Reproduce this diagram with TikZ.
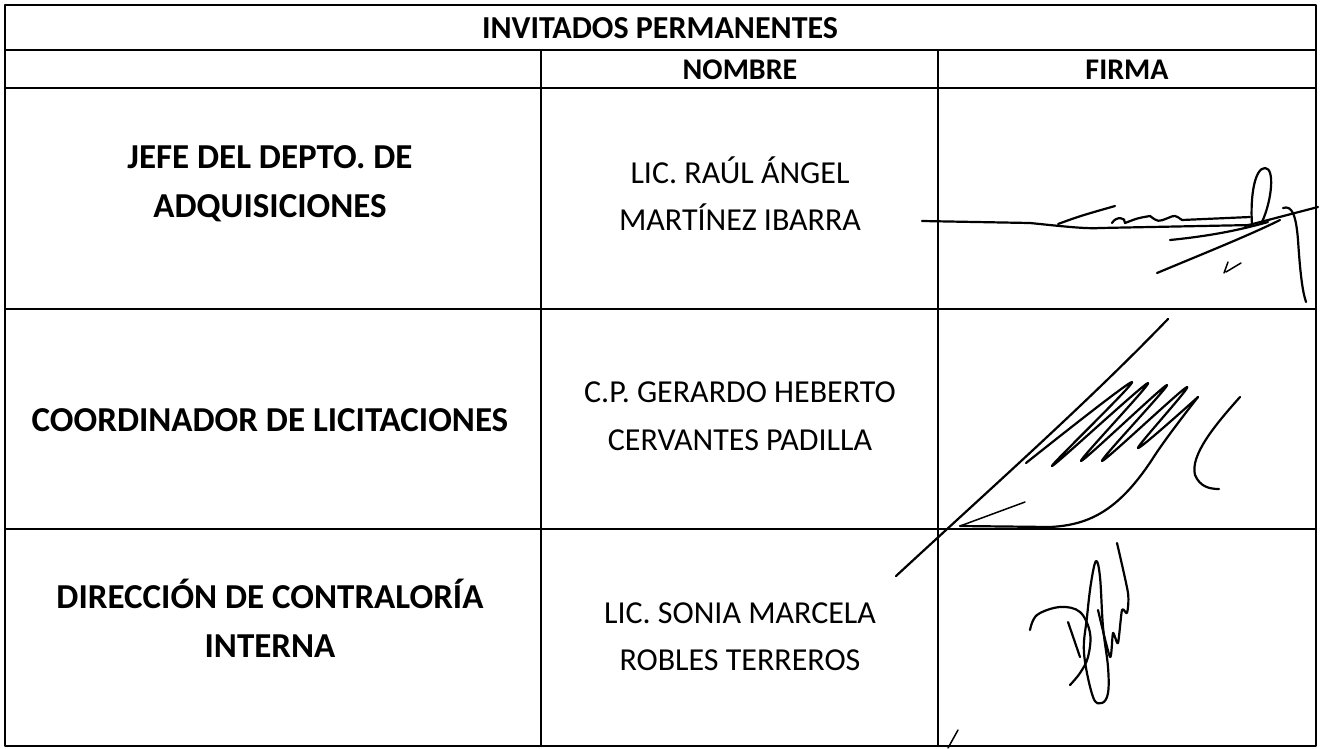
\documentclass[tikz,border=0pt]{standalone}
\usepackage{fontspec}
\setmainfont{Carlito}
\begin{document}
\begin{tikzpicture}[x=1pt,y=-1pt,line cap=round,line join=round,
  gridline/.style={line width=2pt,black},
  hdr/.style={font=\fontsize{32}{38}\selectfont\bfseries,anchor=base,inner sep=0pt},
  colhdr/.style={font=\fontsize{30}{36}\selectfont\bfseries,anchor=base,inner sep=0pt},
  lbl/.style={font=\fontsize{35}{42}\selectfont\bfseries,anchor=base,inner sep=0pt},
  nm/.style={font=\fontsize{32}{38}\selectfont,anchor=base,inner sep=0pt},
  sig/.style={line width=2.2pt,black},
  sigthin/.style={line width=1.5pt,black}]
\useasboundingbox (0,0) rectangle (1320,748);
\fill[white] (0,0) rectangle (1320,748);
% table grid
\draw[gridline] (5,5) rectangle (1316,746);
\draw[gridline] (5,50) -- (1316,50);
\draw[gridline] (5,88) -- (1316,88);
\draw[gridline] (5,309) -- (1316,309);
\draw[gridline] (5,529) -- (1316,529);
\draw[gridline] (541,50) -- (541,746);
\draw[gridline] (938,50) -- (938,746);
% headers
\node[hdr] (title) at (660,38) {INVITADOS PERMANENTES};
\node[colhdr] (nombre) at (740,79) {NOMBRE};
\node[colhdr] (firma) at (1127,79) {FIRMA};
% row 1
\node[lbl] (l1a) at (270,168) {JEFE DEL DEPTO. DE};
\node[lbl] (l1b) at (270,217) {ADQUISICIONES};
\node[nm] (n1a) at (740,183) {LIC. RAÚL ÁNGEL};
\node[nm] (n1b) at (740,230) {MARTÍNEZ IBARRA};
% row 2
\node[lbl] (l2) at (270,431) {COORDINADOR DE LICITACIONES};
\node[nm] (n2a) at (740,402) {C.P. GERARDO HEBERTO};
\node[nm] (n2b) at (740,450) {CERVANTES PADILLA};
% row 3
\node[lbl] (l3a) at (270,608) {DIRECCIÓN DE CONTRALORÍA};
\node[lbl] (l3b) at (270,657) {INTERNA};
\node[nm] (n3a) at (740,623) {LIC. SONIA MARCELA};
\node[nm] (n3b) at (740,670) {ROBLES TERREROS};
% signature 1
\draw[sig] (922,221) -- (1030,223) .. controls (1060,226) and (1085,229) .. (1100,228) -- (1252,225);
\draw[sig] (1058,224) .. controls (1080,216) .. (1115,206);
\draw[sig] (1112,223) .. controls (1116,216) and (1126,217) .. (1125,223)
  .. controls (1138,218) .. (1150,216) .. controls (1158,222) .. (1168,218)
  .. controls (1175,215) .. (1182,220) -- (1250,217);
\draw[sig] (1252,225) .. controls (1250,195) and (1255,168) .. (1265,168)
  .. controls (1275,168) and (1272,200) .. (1262,222);
\draw[sig] (1170,240) .. controls (1210,236) and (1240,230) .. (1268,222);
\draw[sig] (1157,273) .. controls (1200,255) and (1250,235) .. (1280,220);
\draw[sigthin] (1224,273) -- (1228,262) (1226,272) -- (1241,263);
\draw[sig] (1245,226) -- (1318,207);
\draw[sig] (1283,208) .. controls (1292,205) and (1296,215) .. (1298,240)
  .. controls (1300,270) and (1302,290) .. (1306,302);
% signature 2
\draw[sig] (896,576) .. controls (1000,480) and (1090,400) .. (1168,319);
\draw[sig] plot[smooth,tension=0.55] coordinates {(1026,463) (1132,382) (1052,466) (1148,383) (1081,461) (1167,385) (1102,461) (1187,387) (1138,448) (1198,397)};
\draw[sig] (1198,397) .. controls (1180,420) and (1165,440) .. (1155,455)
  .. controls (1120,510) and (1090,525) .. (1050,527) -- (960,526);
\draw[sigthin] (960,526) -- (1025,502);
\draw[sig] (1240,397) .. controls (1215,425) and (1190,455) .. (1195,475)
  .. controls (1200,487) and (1210,489) .. (1219,489);
% signature 3
\draw[sig] plot[smooth,tension=0.6] coordinates {(1030,630) (1037,615) (1060,607) (1080,612) (1090,633) (1088,657) (1080,673) (1070,685)};
\draw[sig] plot[smooth cycle,tension=0.6] coordinates {(1096,561) (1091,583) (1087,617) (1084,653) (1093,697) (1102,703) (1108,693) (1108,667) (1103,627) (1100,577)};
\draw[sig] (1068,622) -- (1080,657);
\draw[sig] plot[smooth,tension=0.4] coordinates {(1098,610) (1110,657) (1113,633) (1118,643) (1122,610) (1127,613) (1128,593) (1117,543)};
\draw[sigthin] (958,730) -- (948,748);
\end{tikzpicture}
\end{document}
